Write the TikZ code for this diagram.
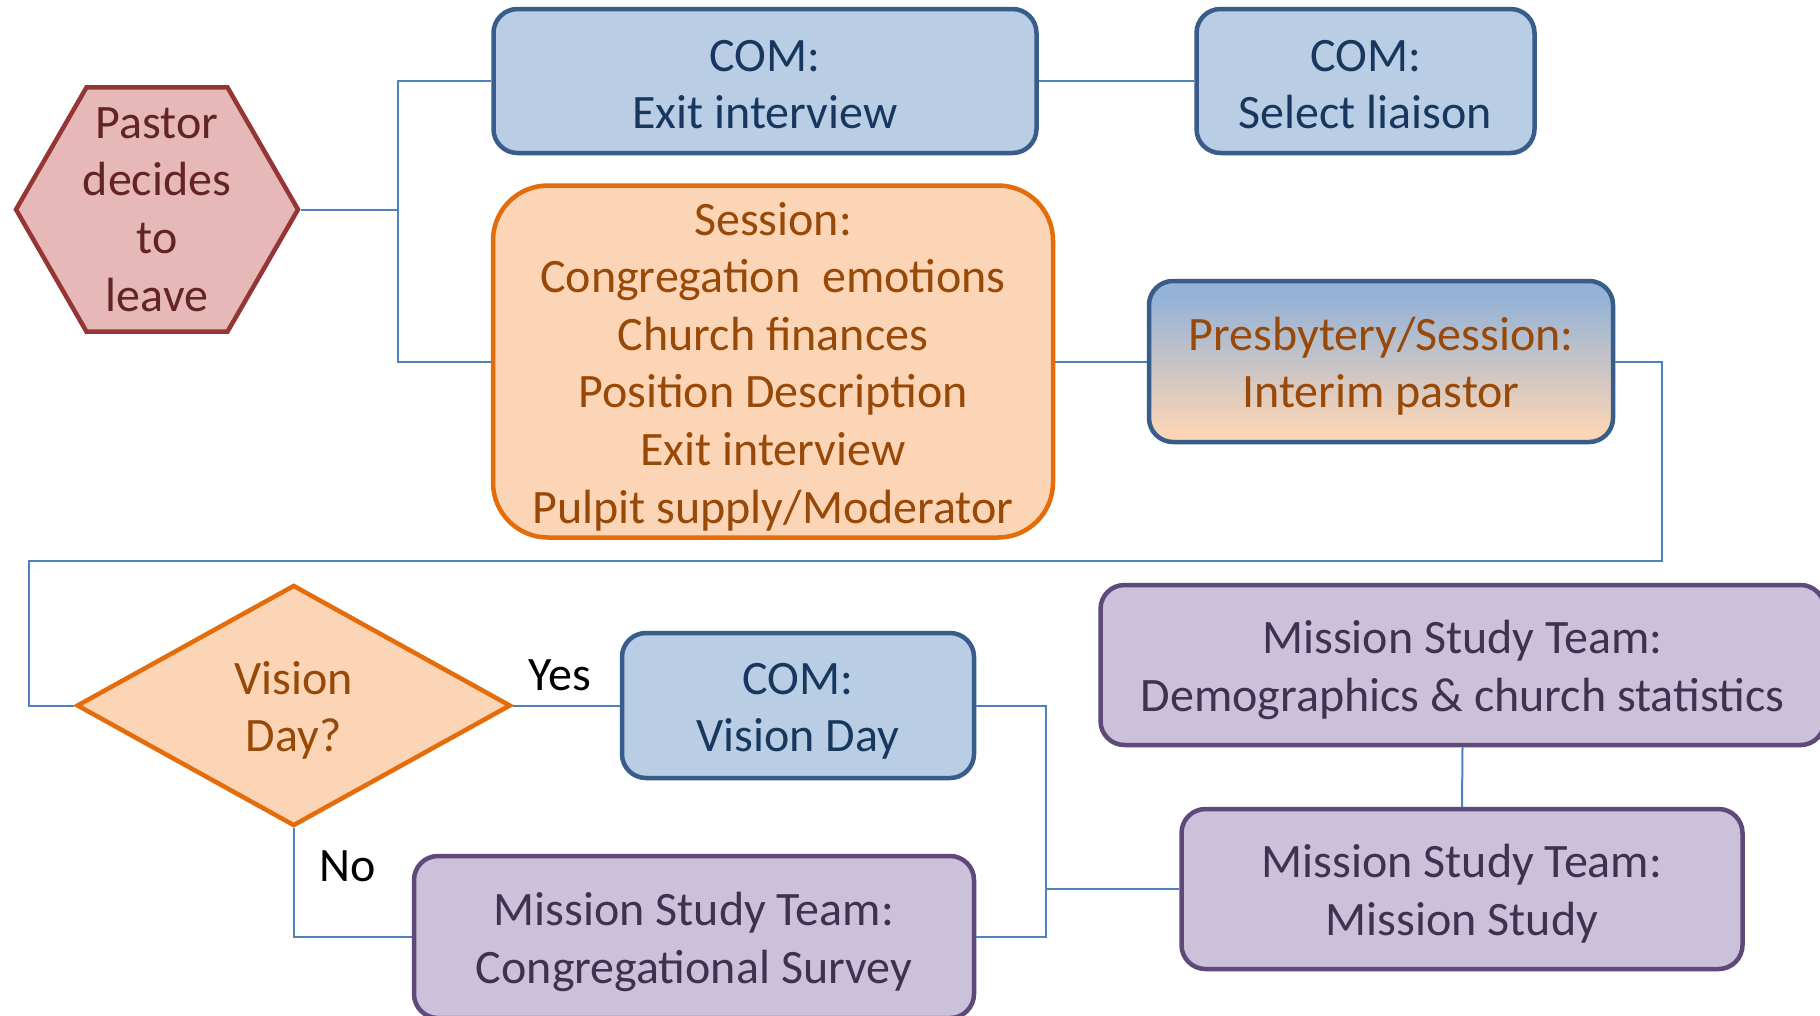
\documentclass[tikz,border=0pt]{standalone}
\usepackage{fontspec}
\setmainfont{Carlito}
\usetikzlibrary{shapes.geometric}
\definecolor{connc}{HTML}{4F81BD}
\definecolor{bfill}{HTML}{B9CDE5}
\definecolor{bdraw}{HTML}{385D8A}
\definecolor{btext}{HTML}{17375E}
\definecolor{ofill}{HTML}{FBD5B5}
\definecolor{odraw}{HTML}{E46C0A}
\definecolor{otext}{HTML}{984807}
\definecolor{pfill}{HTML}{CCC1DA}
\definecolor{pdraw}{HTML}{5F497A}
\definecolor{ptext}{HTML}{3F3151}
\definecolor{rfill}{HTML}{E6B9B8}
\definecolor{rdraw}{HTML}{943634}
\definecolor{rtext}{HTML}{632523}
\definecolor{gblue}{HTML}{95B3D7}
\pgfdeclareverticalshading{presgrad}{100bp}{color(0bp)=(ofill); color(28bp)=(ofill); color(70bp)=(gblue); color(100bp)=(gblue)}
\newcommand\topstrut{\rule{0pt}{43pt}}
\newcommand\smallstrut{\rule{0pt}{38pt}}
\tikzset{
  bigtext/.style={font=\fontsize{48}{57.6}\selectfont, align=center},
  conn/.style={draw=connc, line width=2pt},
  boxbase/.style={bigtext, rounded corners=24pt, line width=4.5pt, inner sep=0pt},
  bluebox/.style={boxbase, fill=bfill, draw=bdraw, text=btext},
  orangebox/.style={boxbase, fill=ofill, draw=odraw, text=otext},
  purplebox/.style={boxbase, fill=pfill, draw=pdraw, text=ptext},
  presbox/.style={boxbase, shading=presgrad, draw=bdraw, text=otext},
  hexa/.style={shape=regular polygon, regular polygon sides=6, minimum size=282pt, inner sep=0pt, fill=rfill, draw=rdraw, line width=4.5pt},
  decision/.style={shape=diamond, minimum width=434pt, minimum height=241pt, inner sep=0pt, fill=ofill, draw=odraw, line width=4.5pt},
  lbl/.style={bigtext, text=black}
}
\begin{document}
\begin{tikzpicture}[x=1pt, y=-1pt]
\useasboundingbox (0,0) rectangle (1820,1015);
\clip (0,0) rectangle (1820,1015);
\fill[white] (0,0) rectangle (1820,1015);

% nodes
\node[hexa] (pastor) at (157,209.5) {};
\node[bigtext, text=rtext] (pastortxt) at (pastor.center) {Pastor\\decides\\to\\leave};

\node[bluebox, minimum width=543pt, minimum height=144pt] (exit) at (765,81) {\smallstrut COM:\\Exit interview};
\node[bluebox, minimum width=338pt, minimum height=144pt] (liaison) at (1365.5,81) {\smallstrut COM:\\Select liaison};

\node[orangebox, rounded corners=55pt, minimum width=560pt, minimum height=352pt] (session) at (773,361.5)
  {\topstrut Session:\\Congregation\ \ emotions\\Church finances\\Position Description\\Exit interview\\Pulpit supply/Moderator};

\node[presbox, minimum width=464pt, minimum height=161pt] (pres) at (1381,361.5) {\topstrut Presbytery/Session:\\Interim pastor};

\node[decision] (vision) at (293.7,705.5) {};
\node[bigtext, text=otext] (visiontxt) at (vision.center) {\topstrut Vision\\Day?};

\node[bluebox, minimum width=352pt, minimum height=145pt] (comvd) at (798,705.5) {\topstrut COM:\\Vision Day};

\node[purplebox, minimum width=560pt, minimum height=162pt] (survey) at (694,937) {\topstrut Mission Study Team:\\Congregational Survey};

\node[purplebox, minimum width=724pt, minimum height=160pt] (demo) at (1462.5,665) {\topstrut Mission Study Team:\\Demographics \& church statistics};

\node[purplebox, minimum width=561pt, minimum height=160pt] (study) at (1462,889) {\topstrut Mission Study Team:\\Mission Study};

\node[lbl] (yes) at (559.5,675) {Yes};
\node[lbl] (no) at (348,866) {No};

% junction coordinates
\coordinate (j1) at (398,0);
\coordinate (loopR) at (1662,560.6);
\coordinate (loopL) at (29,560.6);
\coordinate (j2) at (1046,0);

% connectors
\draw[conn] (pastor.east) -- (pastor.east -| j1) |- (exit.west);
\draw[conn] (pastor.east -| j1) |- (session.west);
\draw[conn] (exit.east) -- (liaison.west);
\draw[conn] (session.east) -- (pres.west);
\draw[conn] (pres.east) -| (loopR) -- (loopL) |- (vision.west);
\draw[conn] (vision.east) -- (comvd.west);
\draw[conn] (vision.south) |- (survey.west);
\draw[conn] (comvd.east) -- (comvd.east -| j2) |- (survey.east);
\draw[conn] (j2 |- study.west) -- (study.west);
\draw[conn] (demo.south) -- (study.north);
\end{tikzpicture}
\end{document}
